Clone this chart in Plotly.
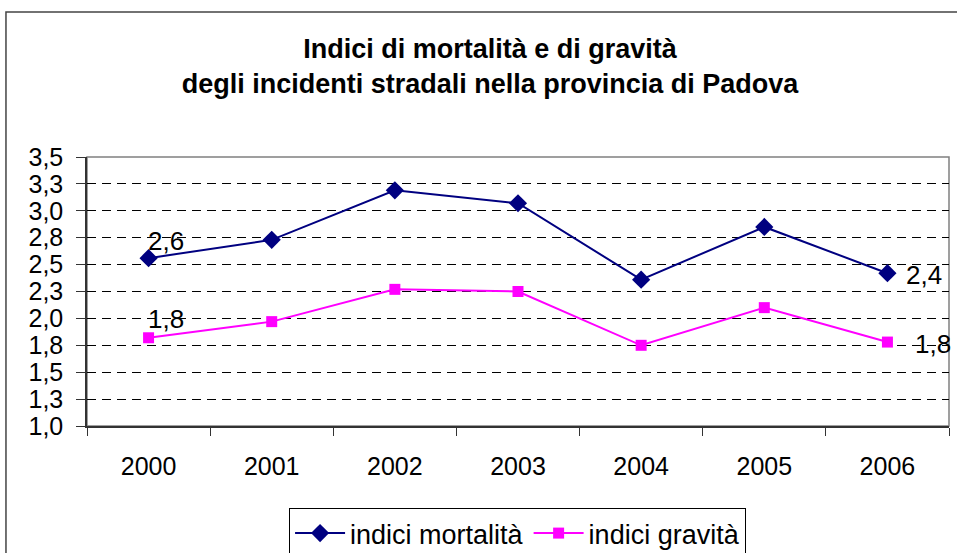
import plotly.graph_objects as go

years = ["2000", "2001", "2002", "2003", "2004", "2005", "2006"]
mortalita = [2.56, 2.73, 3.19, 3.07, 2.36, 2.85, 2.42]
gravita = [1.82, 1.97, 2.27, 2.25, 1.75, 2.10, 1.78]
y_tickvals = [1.0, 1.25, 1.5, 1.75, 2.0, 2.25, 2.5, 2.75, 3.0, 3.25, 3.5]
y_ticktext = ["1,0", "1,3", "1,5", "1,8", "2,0", "2,3", "2,5", "2,8", "3,0", "3,3", "3,5"]
title_lines = ["Indici di mortalità e di gravità", "degli incidenti stradali nella provincia di Padova"]
series_names = ["indici mortalità", "indici gravità"]

FONT = "Liberation Sans, Arial, sans-serif"


def fmt(v):
    return f"{v:.1f}".replace(".", ",")


fig = go.Figure()
fig.add_trace(go.Scatter(
    x=years, y=mortalita, name=series_names[0], mode="lines+markers",
    line=dict(color="#000080", width=2),
    marker=dict(symbol="diamond", size=14, color="#000080"),
))
fig.add_trace(go.Scatter(
    x=years, y=gravita, name=series_names[1], mode="lines+markers",
    line=dict(color="#FF00FF", width=2),
    marker=dict(symbol="square", size=11, color="#FF00FF"),
))

# data labels on the first and last points (category index positions)
first, last = 0, len(years) - 1
label_font = dict(size=26, family=FONT, color="black")
annotations = [
    dict(x=first, y=mortalita[first], text=fmt(mortalita[first]), showarrow=False,
         xanchor="left", yanchor="middle", xshift=-3, yshift=17, font=label_font),
    dict(x=first, y=gravita[first], text=fmt(gravita[first]), showarrow=False,
         xanchor="left", yanchor="middle", xshift=-3, yshift=19, font=label_font),
    dict(x=last, y=mortalita[last], text=fmt(mortalita[last]), showarrow=False,
         xanchor="left", yanchor="middle", xshift=17, yshift=-2, font=label_font),
    dict(x=last, y=gravita[last], text=fmt(gravita[last]), showarrow=False,
         xanchor="left", yanchor="middle", xshift=26, yshift=-2, font=label_font),
]

fig.update_layout(
    width=957, height=553,
    margin=dict(l=87, r=8, t=157, b=127, autoexpand=False),
    paper_bgcolor="white", plot_bgcolor="white",
    font=dict(family=FONT, size=25, color="black"),
    title=dict(
        text="<b>" + title_lines[0] + "<br>" + title_lines[1] + "</b>",
        x=0.512, xanchor="center", y=0.896, yanchor="middle",
        font=dict(size=27, family=FONT, color="black"),
    ),
    showlegend=True,
    legend=dict(
        orientation="h", x=0.4995, xanchor="center", y=-0.305, yanchor="top",
        bordercolor="black", borderwidth=1, bgcolor="white",
        font=dict(size=27, family=FONT, color="black"),
        itemwidth=50, tracegroupgap=0,
    ),
    annotations=annotations,
    xaxis=dict(
        type="category", range=[-0.5, 6.5], tickson="boundaries",
        ticks="outside", ticklen=8, tickcolor="#333", tickwidth=1,
        showline=True, linecolor="#333", linewidth=1.5,
        showgrid=False, zeroline=False, ticklabelstandoff=17,
        tickfont=dict(size=25, family=FONT),
    ),
    yaxis=dict(
        range=[1.0, 3.5], tickvals=y_tickvals, ticktext=y_ticktext,
        ticks="outside", ticklen=9, tickcolor="#333", tickwidth=1,
        showline=True, linecolor="#333", linewidth=1.5,
        showgrid=True, gridcolor="black", gridwidth=1, griddash="9px,6px",
        zeroline=False, ticklabelstandoff=8,
        tickfont=dict(size=25, family=FONT),
    ),
    shapes=[
        dict(type="rect", xref="paper", yref="paper", x0=0, x1=1, y0=0, y1=1,
             line=dict(color="#808080", width=1.5), layer="below"),
        dict(type="rect", xref="paper", yref="paper", x0=-0.094, x1=1.05, y0=-0.7, y1=1.539,
             line=dict(color="#444", width=1.5), layer="below"),
    ],
)

fig.write_html("out.html", config={"displayModeBar": False},
               post_script="document.body.style.margin='0';")
